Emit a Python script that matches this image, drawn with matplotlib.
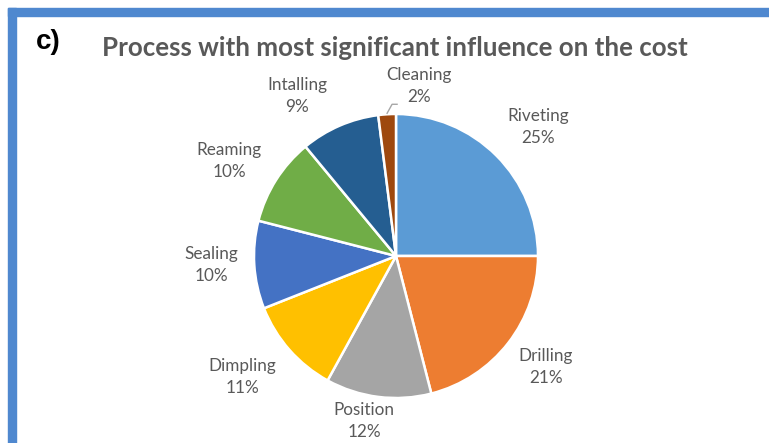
import matplotlib

matplotlib.use("Agg")
import matplotlib.pyplot as plt
import numpy as np

# process share of cost (%)
processes = ["Riveting", "Drilling", "Position", "Dimpling", "Sealing", "Reaming", "Intalling", "Cleaning"]
shares = [25, 21, 12, 11, 10, 10, 9, 2]
colors = ["#5B9BD5", "#ED7D31", "#A5A5A5", "#FFC000", "#4472C4", "#70AD47", "#255E91", "#9E480E"]

W, H = 769, 443
TXT = "#595959"
BORDER = "#4F88CF"

# label centres in pixels from the top-left corner
label_xy = [(538, 127), (546, 367), (364, 421), (242, 377),
            (211, 265), (229, 161), (297, 96), (419, 86)]

fig = plt.figure(figsize=(W / 100, H / 100), dpi=100)
ax = fig.add_axes([0, 0, 1, 1])

cx, cy, R = 396, H - 256, 142
wedges, _ = ax.pie(shares, colors=colors, startangle=90, counterclock=False,
                   center=(cx, cy), radius=R, frame=True,
                   wedgeprops=dict(edgecolor="white", linewidth=1.8))
ax.set_xlim(0, W)
ax.set_ylim(0, H)
ax.set_aspect("equal")
ax.axis("off")

for w, name, val, (px, py) in zip(wedges, processes, shares, label_xy):
    if name == "Cleaning":
        # leader line from the thin slice up to its label
        mid = np.deg2rad((w.theta1 + w.theta2) / 2)
        ex, ey = cx + R * np.cos(mid), cy + R * np.sin(mid)
        ax.plot([ex, ex + 5, ex + 10], [ey + 1, ey + 10, ey + 10], color="#A6A6A6", lw=1.0)
    ax.text(px, H - py, f"{name}\n{val}%", ha="center", va="center", color=TXT,
            fontsize=12.3, family="Lato", linespacing=1.45)

# title and panel tag
ax.text(395, H - 48, "Process with most significant influence on the cost", ha="center",
        va="center", color=TXT, fontsize=18.6, fontweight="bold", family="Lato")
ax.text(36, H - 42, "c)", ha="left", va="center", color="black", fontsize=20,
        fontweight="bold", family="Liberation Sans")

# blue frame on top and left
fig.patches.append(plt.Rectangle((8 / W, (H - 16) / H), 1 - 8 / W, 8 / H, transform=fig.transFigure,
                                 color=BORDER, zorder=5))
fig.patches.append(plt.Rectangle((8 / W, 0), 8 / W, (H - 8) / H, transform=fig.transFigure,
                                 color=BORDER, zorder=5))

fig.savefig("out.png", dpi=100, facecolor="white")
